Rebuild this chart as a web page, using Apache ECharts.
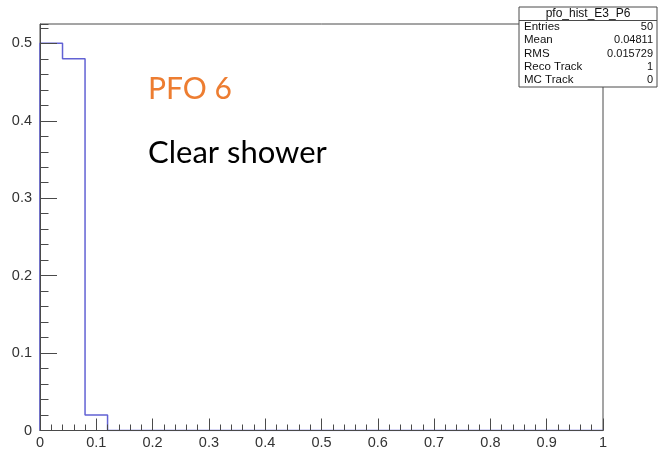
<!DOCTYPE html>
<html>
<head>
<meta charset="utf-8">
<script src="https://cdn.jsdelivr.net/npm/echarts@6/dist/echarts.min.js"></script>
<style>html,body{margin:0;padding:0;background:#fff}#c{width:660px;height:453px}</style>
</head>
<body>
<div id="c"></div>
<script>
// Histogram bins (lower edges) and normalized contents
var binEdges = [0, 0.04, 0.08, 0.12, 0.16, 0.20, 0.24, 0.28, 0.32, 0.36, 0.40, 0.44, 0.48, 0.52, 0.56, 0.60, 0.64, 0.68, 0.72, 0.76, 0.80, 0.84, 0.88, 0.92, 0.96];
var binValues = [0.5, 0.48, 0.02, 0, 0, 0, 0, 0, 0, 0, 0, 0, 0, 0, 0, 0, 0, 0, 0, 0, 0, 0, 0, 0, 0];
var xMax = 1;
var yMax = 0.525;
var statsTitle = 'pfo_hist_E3_P6';
var statsLabels = ['Entries', 'Mean', 'RMS', 'Reco Track', 'MC Track'];
var statsValues = ['50', '0.04811', '0.015729', '1', '0'];
var annotTitle = 'PFO 6';
var annotText = 'Clear shower';

var pts = [[0, 0]];
for (var i = 0; i < binEdges.length; i++) pts.push([binEdges[i], binValues[i]]);
pts.push([xMax, binValues[binValues.length - 1]]);

var axisCol = '#4a4a4a';
var labelStyle = {color: '#333', fontFamily: 'Liberation Sans', fontSize: 14.5};

var graphics = [];
var bx = 519, by = 7, bw = 138, bh = 80;
graphics.push({type: 'rect', shape: {x: bx, y: by, width: bw, height: bh}, style: {fill: '#fff', stroke: axisCol, lineWidth: 1}, z: 100});
graphics.push({type: 'line', shape: {x1: bx, y1: 20.5, x2: bx + bw, y2: 20.5}, style: {stroke: axisCol, lineWidth: 1}, z: 101});
graphics.push({type: 'text', x: bx + bw / 2, y: 14, style: {text: statsTitle, fill: '#111', font: '12px "Liberation Sans"', textAlign: 'center', textVerticalAlign: 'middle'}, z: 102});
for (var k = 0; k < statsLabels.length; k++) {
  var yy = 27 + k * 13.3;
  graphics.push({type: 'text', x: bx + 5, y: yy, style: {text: statsLabels[k], fill: '#111', font: '11.5px "Liberation Sans"', textAlign: 'left', textVerticalAlign: 'middle'}, z: 102});
  graphics.push({type: 'text', x: bx + bw - 4, y: yy, style: {text: statsValues[k], fill: '#111', font: '11px "Liberation Sans"', textAlign: 'right', textVerticalAlign: 'middle'}, z: 102});
}
graphics.push({type: 'text', x: 148, y: 104, style: {text: annotTitle, fill: '#ED7D31', font: '30px Lato', textAlign: 'left', textVerticalAlign: 'bottom'}, z: 50});
graphics.push({type: 'text', x: 148, y: 168, style: {text: annotText, fill: '#000', font: '31px Lato', textAlign: 'left', textVerticalAlign: 'bottom'}, z: 50});

var chart = echarts.init(document.getElementById('c'), null, {renderer: 'canvas'});
chart.setOption({
  animation: false,
  backgroundColor: '#fff',
  grid: {left: 40, right: 57, top: 24, bottom: 22.5, show: true, borderColor: axisCol, borderWidth: 1, backgroundColor: 'transparent'},
  xAxis: [{
    type: 'value', min: 0, max: xMax, interval: 0.1, z: 5,
    axisLine: {show: true, onZero: false, lineStyle: {color: axisCol, width: 1}},
    axisTick: {show: true, inside: true, length: 12, lineStyle: {color: axisCol}},
    minorTick: {show: true, splitNumber: 5, length: 6, lineStyle: {color: axisCol}},
    axisLabel: Object.assign({margin: 5}, labelStyle),
    splitLine: {show: false}
  }],
  yAxis: [{
    type: 'value', min: 0, max: yMax, interval: 0.1, z: 5,
    axisLine: {show: true, onZero: false, lineStyle: {color: axisCol, width: 1}},
    axisTick: {show: true, inside: true, length: 17, lineStyle: {color: axisCol}},
    axisLabel: Object.assign({margin: 8, showMaxLabel: false, formatter: function (v) { return Math.abs(v - yMax) < 1e-9 ? '' : String(+v.toFixed(2)); }}, labelStyle),
    splitLine: {show: false}
  }, {
    type: 'value', min: 0, max: yMax, interval: 0.02, position: 'left', offset: 0, z: 5,
    axisLine: {show: false},
    axisTick: {show: true, inside: true, length: 8.5, lineStyle: {color: axisCol}},
    axisLabel: {show: false},
    splitLine: {show: false}
  }],
  series: [{
    type: 'line', step: 'end', data: pts, xAxisIndex: 0, yAxisIndex: 0,
    showSymbol: false, symbol: 'none',
    lineStyle: {color: '#6262d4', width: 1.5}, z: 2
  }],
  graphic: graphics
});
</script>
</body>
</html>
